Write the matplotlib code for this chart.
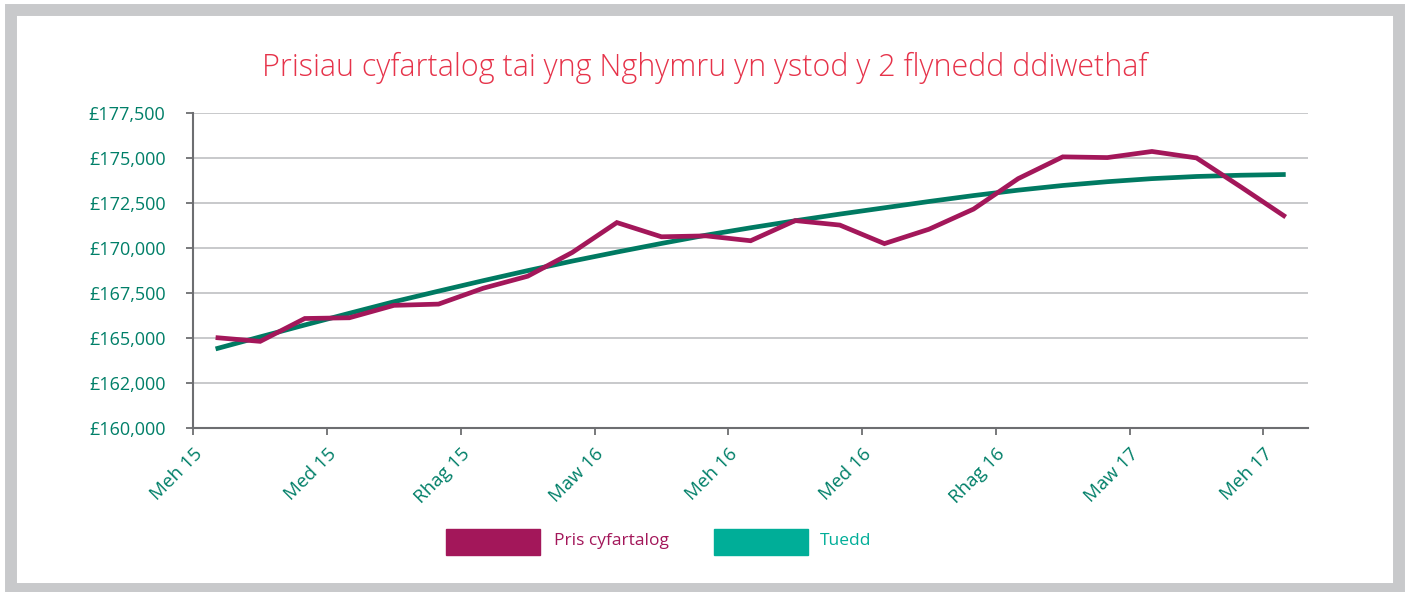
import matplotlib
matplotlib.use("Agg")
import matplotlib.pyplot as plt
from matplotlib.patches import Rectangle
import numpy as np

# monthly data, Meh 15 -> Meh 17 (25 months)
price = [165040, 164830, 166100, 166140, 166830, 166900, 167780, 168450,
         169770, 171430, 170640, 170690, 170420, 171540, 171290, 170260,
         171060, 172180, 173870, 175080, 175040, 175380, 175020, 173400,
         171740]
trend = [164410, 165080, 165740, 166390, 167030, 167620, 168200, 168760,
         169290, 169790, 170270, 170730, 171140, 171530, 171900, 172250,
         172600, 172930, 173230, 173490, 173700, 173870, 173990, 174060,
         174100]
tick_labels = ['Meh 15', 'Med 15', 'Rhag 15', 'Maw 16', 'Meh 16',
               'Med 16', 'Rhag 16', 'Maw 17', 'Meh 17']
y_ticks = [160000, 162500, 165000, 167500, 170000, 172500, 175000, 177500]
y_labels = ['£160,000', '£162,000', '£165,000', '£167,500', '£170,000',
            '£172,500', '£175,000', '£177,500']

title = 'Prisiau cyfartalog tai yng Nghymru yn ystod y 2 flynedd ddiwethaf'

# colours
magenta = '#a3175a'
dark_green = '#007a62'
teal = '#00ae98'
label_green = '#007f68'
title_red = '#e6334a'
grid_col = '#bfc0c2'
axis_col = '#6d6e71'
frame_col = '#c8c9cb'

plt.rcParams['font.family'] = ['Open Sans', 'DejaVu Sans']

W, H = 1407, 592
fig = plt.figure(figsize=(W / 100, H / 100), dpi=100)
fig.patch.set_facecolor('white')

# grey frame
fig.patches.append(Rectangle((10.5 / W, 3.5 / H), (1399 - 10.5) / W, (582 - 3.5) / H,
                             transform=fig.transFigure, fill=False,
                             edgecolor=frame_col, linewidth=8.6))

ax = fig.add_axes([193.3 / W, 1 - 428.3 / H, (1308 - 193.3) / W, (428.3 - 113.3) / H])

x = np.arange(len(price))
ax.plot(x, trend, color=dark_green, linewidth=3.4, solid_capstyle='butt', zorder=3)
ax.plot(x, price, color=magenta, linewidth=3.4, solid_joinstyle='miter',
        solid_capstyle='butt', zorder=4)

ax.set_xlim(-0.5, len(price) - 0.5)
ax.set_ylim(160000, 177500)

ax.set_yticks(y_ticks)
ax.set_yticklabels(y_labels, fontweight='medium')
ax.set_xticks(np.arange(-0.5, len(price), 3))
ax.set_xticklabels(tick_labels, rotation=45, ha='right', va='top',
                   rotation_mode='anchor', fontweight='medium')

ax.grid(axis='y', color=grid_col, linewidth=1.2)
ax.set_axisbelow(True)
for side in ['top', 'right']:
    ax.spines[side].set_visible(False)
for side in ['left', 'bottom']:
    ax.spines[side].set_color(axis_col)
    ax.spines[side].set_linewidth(1.5)

ax.tick_params(axis='y', colors=axis_col, labelcolor=label_green, length=5,
               width=1.3, pad=15, labelsize=13)
ax.tick_params(axis='x', colors=axis_col, labelcolor=label_green, length=5,
               width=1.3, pad=7, labelsize=13.5)

fig.text(705 / W, 1 - 68 / H, title, color=title_red, fontsize=22,
         fontweight='light', ha='center', va='center')

# legend
fig.patches.append(Rectangle((446 / W, 1 - 555 / H), 94 / W, 26 / H,
                             transform=fig.transFigure, color=magenta))
fig.text(554 / W, 1 - 541 / H, 'Pris cyfartalog', color=magenta, fontsize=12.5,
         ha='left', va='center', fontweight='medium')
fig.patches.append(Rectangle((714 / W, 1 - 555 / H), 94 / W, 26 / H,
                             transform=fig.transFigure, color=teal))
fig.text(820 / W, 1 - 541 / H, 'Tuedd', color=teal, fontsize=12.5,
         ha='left', va='center', fontweight='medium')

fig.savefig('out.png', dpi=100, facecolor='white')
